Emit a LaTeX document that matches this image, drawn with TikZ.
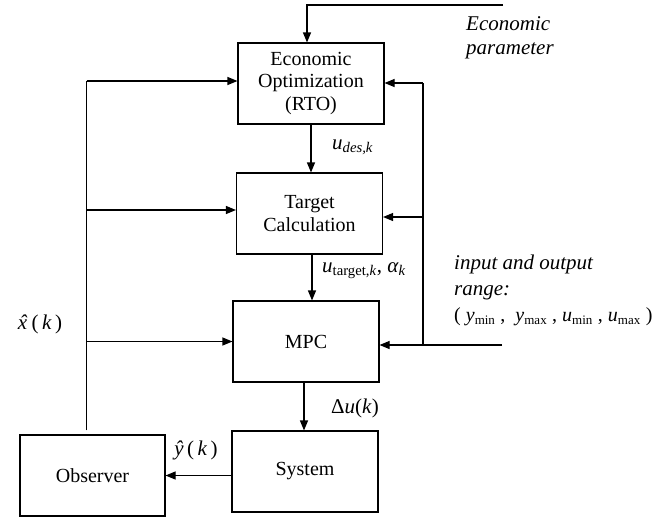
\documentclass[tikz,border=0pt]{standalone}
\usepackage{fontspec}
\setmainfont{Liberation Serif}
\usetikzlibrary{arrows.meta,positioning,calc}
\newcommand{\lowsub}[1]{\textsubscript{\fontsize{13}{14}\selectfont #1}}
\newcommand{\hatx}{\textit{x}\kern-0.36em\raisebox{-0.02em}{\textit{\char"02C6}}\kern0.03em}
\tikzset{
  blockbox/.style={draw, line width=1.1pt, minimum width=146pt, minimum height=81pt,
                   align=center, inner sep=2pt, font=\fontsize{20}{22.5}\selectfont},
  sigarrow/.style={-{Triangle[length=10pt,width=8pt]}, line width=1.1pt},
  sigline/.style={line width=1.1pt},
  siglabel/.style={inner sep=0pt, align=left, font=\fontsize{21}{26}\selectfont}
}

\begin{document}
\begin{tikzpicture}[x=1pt, y=-1pt]
    \useasboundingbox (0,0) rectangle (671,517);

    % blocks
    \node[blockbox] (rto)    at (311,83.5)  {Economic\\Optimization\\(RTO)};
    \node[blockbox] (target) at (309.5,213.5) {Target\\Calculation};
    \node[blockbox] (mpc)    at (306,341.5) {MPC};
    \node[blockbox] (sys)    at (305,471.5) {System};
    \node[blockbox, minimum width=145pt] (obs) at (92.5,475.5) {Observer};

    % bus coordinates
    \coordinate (ecoIn)  at (503,5);
    \coordinate (busTop) at (86.5,81);
    \coordinate (rbTop)  at (423,83);
    \coordinate (rngIn)  at (502,345);

    % economic parameter
    \draw[sigarrow] (ecoIn) -| ([xshift=-4pt]rto.north);
    \node[siglabel, anchor=west, font=\fontsize{21}{24.5}\selectfont\itshape] (ecoLbl) at (466,38)
      {Economic\\parameter};

    % forward path
    \draw[sigarrow] (rto.south) -- (rto.south |- target.north);
    \node[siglabel, anchor=west] (udes) at (332,147) {\textit{u}\textsubscript{\textit{des,k}}};
    \draw[sigarrow] ([xshift=2.5pt]target.south) -- ([xshift=2.5pt]target.south |- mpc.north);
    \node[siglabel, anchor=west] (utgt) at (322,271)
      {\textit{u}\textsubscript{target,\textit{k}}, \textit{α}\textsubscript{\textit{k}}};
    \draw[sigarrow] ([xshift=-2pt]mpc.south) -- ([xshift=-2pt]mpc.south |- sys.north);
    \node[siglabel, anchor=west] (du) at (331,408) {Δ\textit{u}(\textit{k})};
    \draw[sigarrow] (sys.west |- obs.east) -- (obs.east);
    \node[siglabel] (yhat) at (196,450) {\textit{ŷ}\,(\,\textit{k}\,)};

    % state estimate feedback
    \draw[sigline] ([xshift=-6pt,yshift=4pt]obs.north) -- (busTop);
    \draw[sigarrow] (busTop) -- (busTop -| rto.west);
    \draw[sigarrow] ($(busTop |- target.west)+(0,-3.5)$) -- ($(target.west)+(0,-3.5)$);
    \draw[sigarrow] (busTop |- mpc.west) -- (mpc.west);
    \node[siglabel] (xhat) at (40,324) {\hatx\,(\,\textit{k}\,)};

    % input and output range
    \draw[sigarrow] (rngIn) -- (rngIn -| mpc.east);
    \draw[sigline] (rngIn -| rbTop) -- (rbTop);
    \draw[sigarrow] (rbTop) -- (rbTop -| rto.east);
    \draw[sigarrow] ($(rbTop |- target.east)+(0,3.5)$) -- ($(target.east)+(0,3.5)$);
    \node[siglabel, anchor=west] (rngLbl) at (454,290)
      {\textit{input and output}\\\textit{range:}\\
       {\fontsize{20}{26}\selectfont ( \textit{y}\lowsub{min} ,\ \ \textit{y}\lowsub{max} , \textit{u}\lowsub{min} , \textit{u}\lowsub{max} )}};
\end{tikzpicture}
\end{document}
